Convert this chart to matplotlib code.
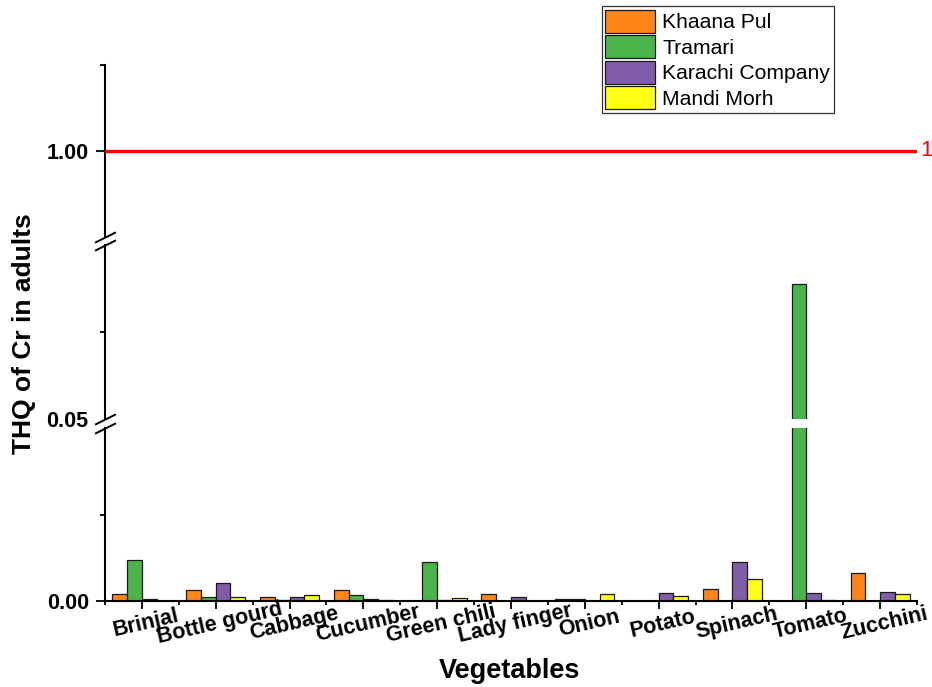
import numpy as np
import matplotlib
matplotlib.use("Agg")
import matplotlib.pyplot as plt
from matplotlib.transforms import ScaledTranslation

plt.rcParams["font.family"] = ["Liberation Sans", "DejaVu Sans"]

vegetables = ["Brinjal", "Bottle gourd", "Cabbage", "Cucumber", "Green chili",
              "Lady finger", "Onion", "Potato", "Spinach", "Tomato", "Zucchini"]
sites = ["Khaana Pul", "Tramari", "Karachi Company", "Mandi Morh"]
khaana_pul = [0.0019, 0.0032, 0.0011, 0.0032, 0.0, 0.0019, 0.0006, 0.0, 0.0034, 0.0, 0.0080]
tramari = [0.0118, 0.0012, 0.0004, 0.0017, 0.0112, 0.0, 0.0007, 0.0, 0.0, 0.75, 0.0]
karachi_company = [0.0005, 0.0053, 0.0012, 0.0006, 0.0002, 0.0011, 0.0, 0.0022, 0.0113, 0.0024, 0.0026]
mandi_morh = [0.0, 0.0012, 0.0017, 0.0003, 0.0008, 0.0, 0.0020, 0.0015, 0.0065, 0.0003, 0.0019]
series = [khaana_pul, tramari, karachi_company, mandi_morh]
colors = ["#FF8519", "#4AB44A", "#7F5DA9", "#FFFF1A"]
threshold = 1.0

# three stacked y-ranges of the broken axis
seg_ranges = [(0.0, 0.05), (0.05, 0.95), (0.95, 1.05)]

W, H = 932, 687
fig = plt.figure(figsize=(W / 100, H / 100), dpi=100)
x0, x1 = 105, 917
seg_px = [(601, 428), (419, 245), (237, 65)]   # (bottom, top) in px from top
axes = []
for (yb, yt) in seg_px:
    ax = fig.add_axes([x0 / W, 1 - yb / H, (x1 - x0) / W, (yb - yt) / H])
    axes.append(ax)
ax_bot, ax_mid, ax_top = axes

x = np.arange(len(vegetables))
bw = 0.2
for ax, (lo, hi) in zip(axes, seg_ranges):
    for k, (vals, c) in enumerate(zip(series, colors)):
        ax.bar(x + (k - 1.5) * bw, vals, bw, color=c, edgecolor="#1a1a1a",
               linewidth=0.9, label=sites[k])
    ax.set_ylim(lo, hi)
    ax.set_xlim(-0.5, len(vegetables) - 0.5)
    ax.patch.set_alpha(0)
    for s in ("top", "right"):
        ax.spines[s].set_visible(False)
    ax.spines["left"].set_linewidth(1.5)
    ax.tick_params(axis="y", which="major", direction="out", length=6.5,
                   width=1.3, pad=5, labelsize=15.5)
    ax.tick_params(axis="y", which="minor", direction="out", length=3.3,
                   width=1.3)

for ax in (ax_mid, ax_top):
    ax.spines["bottom"].set_visible(False)
    ax.tick_params(axis="x", which="both", bottom=False, labelbottom=False)

ax_bot.set_yticks([0.0], ["0.00"], fontweight="bold")
ax_bot.set_yticks([0.025], minor=True)
ax_mid.set_yticks([0.05], ["0.05"], fontweight="bold")
ax_mid.set_yticks([0.5], minor=True)
ax_top.set_yticks([1.0], ["1.00"], fontweight="bold")
ax_top.set_yticks([1.05], minor=True)
ax_mid.tick_params(axis="y", which="major", length=0, pad=12)

# x axis: labels at group centres, minor ticks between groups
ax_bot.spines["bottom"].set_linewidth(1.5)
ax_bot.set_xticks(x)
ax_bot.set_xticks(np.arange(len(vegetables) + 1) - 0.5, minor=True)
ax_bot.set_xticklabels(vegetables, rotation=13, ha="center", va="center",
                       fontsize=15.5, fontweight="bold")
ax_bot.tick_params(axis="x", which="major", direction="out", length=5.8,
                   width=1.3, pad=10.5)
ax_bot.tick_params(axis="x", which="minor", direction="out", length=3,
                   width=1.3)
shift = ScaledTranslation(0.04, 0, fig.dpi_scale_trans)
for t in ax_bot.get_xticklabels():
    t.set_transform(t.get_transform() + shift)

# reference line at THQ = 1
ax_top.axhline(threshold, color="#FF0000", lw=2.4, zorder=5)
ax_top.text(1.004, threshold, f"{threshold:g}", color="#FF0000", fontsize=16,
            va="center", ha="left",
            transform=ax_top.get_yaxis_transform())

# break marks on the left spine
mk = dict(marker=[(-1, -0.5), (1, 0.5)], markersize=15, linestyle="none",
          color="k", mec="k", mew=1.4, clip_on=False)
ax_bot.plot([0], [1], transform=ax_bot.transAxes, **mk)
ax_mid.plot([0, 0], [0, 1], transform=ax_mid.transAxes, **mk)
ax_top.plot([0], [0], transform=ax_top.transAxes, **mk)

fig.text(24.5 / W, 1 - 334 / H, "THQ of Cr in adults", rotation=90,
         ha="center", va="center", fontsize=19, fontweight="bold")
fig.text(510 / W, 1 - 671 / H, "Vegetables", ha="center", va="center",
         fontsize=19.5, fontweight="bold")

handles, labels = ax_bot.get_legend_handles_labels()
leg = fig.legend(handles, labels, loc="upper left",
                 bbox_to_anchor=(601.5 / W, 1 - 6 / H), borderaxespad=0,
                 fontsize=15.2, frameon=True, fancybox=False,
                 handlelength=2.35, handleheight=1.3, handletextpad=0.36,
                 labelspacing=0.12, borderpad=0.17)
leg.get_frame().set_edgecolor("k")
leg.get_frame().set_linewidth(0.9)

fig.savefig("out.png", dpi=100)
